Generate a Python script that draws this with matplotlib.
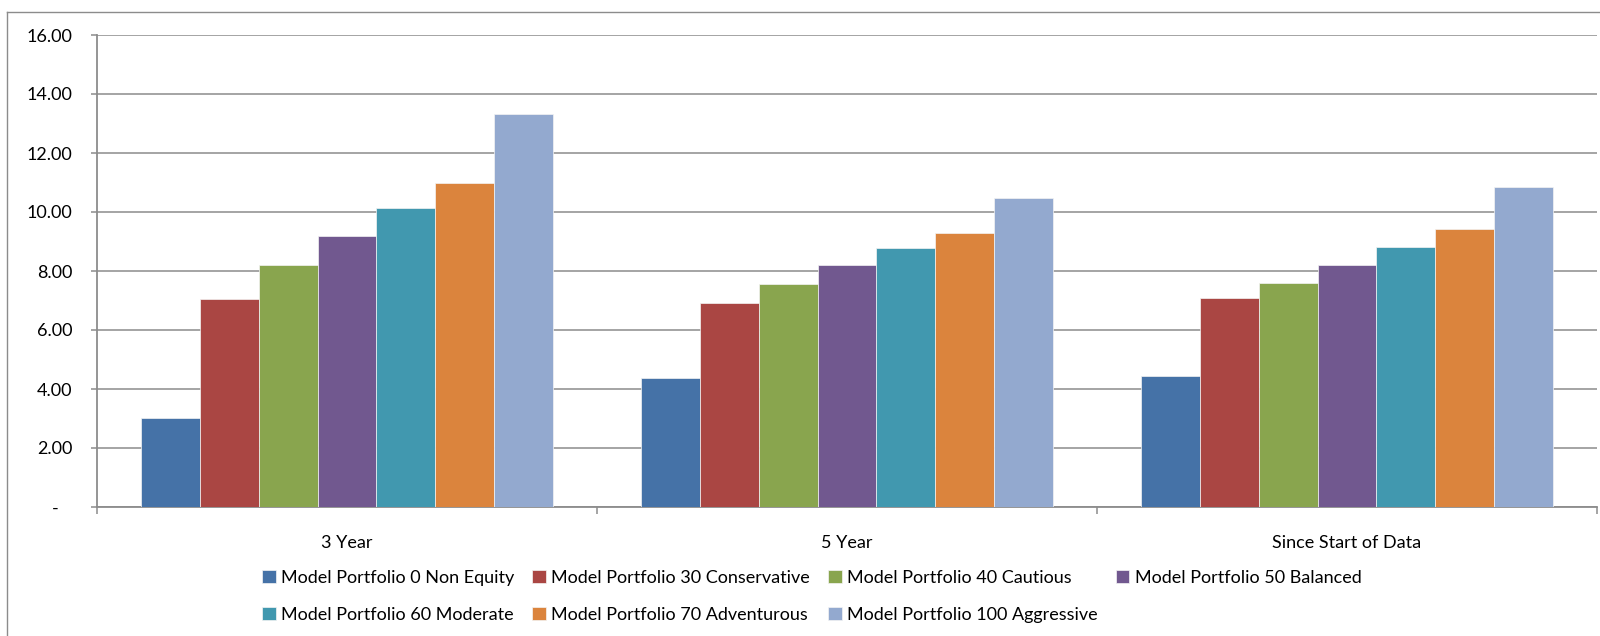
import matplotlib
matplotlib.use("Agg")
import matplotlib.pyplot as plt
import numpy as np
from matplotlib.lines import Line2D
from matplotlib.ticker import FixedLocator, NullFormatter

plt.rcParams['font.family'] = ['Lato', 'DejaVu Sans']

categories = ["3 Year", "5 Year", "Since Start of Data"]
series_names = [
    "Model Portfolio 0 Non Equity",
    "Model Portfolio 30 Conservative",
    "Model Portfolio 40 Cautious",
    "Model Portfolio 50 Balanced",
    "Model Portfolio 60 Moderate",
    "Model Portfolio 70 Adventurous",
    "Model Portfolio 100 Aggressive",
]
mp0 = [3.03, 4.38, 4.43]
mp30 = [7.04, 6.92, 7.10]
mp40 = [8.19, 7.57, 7.59]
mp50 = [9.20, 8.19, 8.20]
mp60 = [10.12, 8.78, 8.81]
mp70 = [10.98, 9.30, 9.41]
mp100 = [13.31, 10.46, 10.84]
series_values = [mp0, mp30, mp40, mp50, mp60, mp70, mp100]
colors = ["#4572A7", "#AA4643", "#89A54E", "#71588F", "#4198AF", "#DB843D", "#93A9CF"]

yticks = [0, 2, 4, 6, 8, 10, 12, 14, 16]
ytick_labels = ["-   ", "2.00", "4.00", "6.00", "8.00", "10.00", "12.00", "14.00", "16.00"]

fig = plt.figure(figsize=(16, 6.36), dpi=100)
ax = fig.add_axes([97/1600, 1 - 507/636, 1500/1600, 472/636])

n = len(series_values)
width = 1 / (n + 1.5)
x = np.arange(len(categories))
handles = []
for i, (vals, name, c) in enumerate(zip(series_values, series_names, colors)):
    offs = (i - (n - 1) / 2) * width
    b = ax.bar(x + offs, vals, width=width, color=c, label=name,
               edgecolor='#f4f4f4', linewidth=0.5, zorder=3)
    handles.append(b)

ax.set_xlim(-0.5, 2.5)
ax.set_ylim(0, 16)
ax.set_yticks(yticks)
ax.set_yticklabels(ytick_labels)
ax.yaxis.grid(True, color='#8c8c8c', linewidth=1.1, zorder=0)
ax.set_axisbelow(True)

ax.xaxis.set_major_locator(FixedLocator([-0.5, 0.5, 1.5, 2.5]))
ax.xaxis.set_major_formatter(NullFormatter())
ax.xaxis.set_minor_locator(FixedLocator(list(x)))
ax.set_xticklabels(categories, minor=True)
ax.tick_params(axis='x', which='minor', length=0, pad=20, labelsize=13)
ax.tick_params(axis='x', which='major', length=5, width=1.1, color='#8c8c8c', direction='out')
ax.tick_params(axis='y', length=4.5, width=1.1, color='#8c8c8c', pad=13, labelsize=13)

for s in ['top', 'right']:
    ax.spines[s].set_visible(False)
for s in ['left', 'bottom']:
    ax.spines[s].set_color('#8c8c8c')
    ax.spines[s].set_linewidth(1.3)

# row-major legend order for 4 columns x 2 rows
order = [0, 4, 1, 5, 2, 6, 3]
leg = fig.legend([handles[i] for i in order], [series_names[i] for i in order],
                 loc='upper left', bbox_to_anchor=(262/1600, 1 - 570/636), ncol=4,
                 frameon=False, fontsize=13, handlelength=0.75, handleheight=0.75,
                 handletextpad=0.3, columnspacing=1.0, labelspacing=1.15,
                 borderpad=0, borderaxespad=0)

# outer chart border
fig.add_artist(Line2D([7/1600, 7/1600], [0, 1 - 12/636], transform=fig.transFigure,
                      color='#8c8c8c', linewidth=1.0))
fig.add_artist(Line2D([7/1600, 1], [1 - 12/636, 1 - 12/636], transform=fig.transFigure,
                      color='#8c8c8c', linewidth=1.0))

fig.savefig("out.png", dpi=100)
